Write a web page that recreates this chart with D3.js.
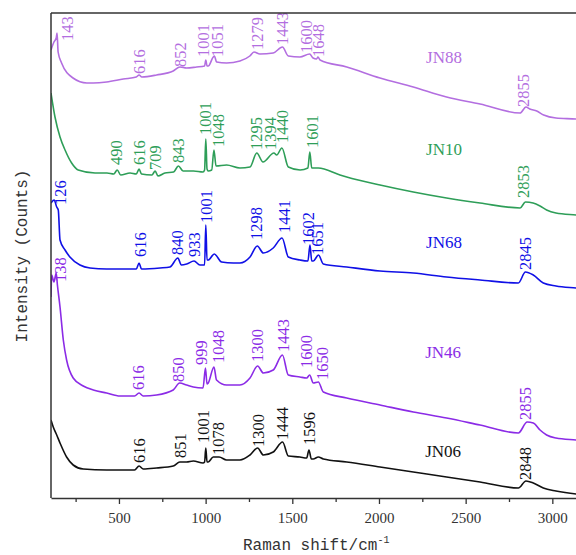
<!DOCTYPE html>
<html>
<head>
<meta charset="utf-8">
<script src="https://cdn.jsdelivr.net/npm/d3@7/dist/d3.min.js"></script>
<style>
  html, body { margin: 0; padding: 0; background: #fff; }
  svg { display: block; }
</style>
</head>
<body>
<svg id="chart" width="576" height="555"></svg>
<script>
// ---------------- DATA (Raman shift in cm^-1, intensity in arbitrary units) ----------------
const sampleNames = ["JN88", "JN10", "JN68", "JN46", "JN06"];

const JN88 = [[108,448],[125,456],[138,460],[143,465],[149,446],[169,435],[235,420],[315,415],[352,415],[429,416],[525,419],
  [600,421],[616,423],[632,421],[717,423],[813,427],[852,431],[890,430],[948,431],[994,432],[1001,438],[1008,432],[1015,432],
  [1044,441],[1051,442],[1063,436],[1121,435],[1198,437],[1255,442],[1279,446],[1313,444],[1390,445],[1443,451],[1477,442],
  [1544,441],[1600,444],[1620,440],[1640,439],[1648,441],[1660,438],[1814,431],[2006,420],[2198,411],[2390,401],[2583,394],
  [2814,385],[2848,391],[2870,389],[2910,387],[2950,383],[3021,380],[3137,379],[3200,378]];

const JN10 = [[108,405],[131,381],[160,361],[189,348],[227,335],[265,328],[362,325],[431,325],[470,324],[490,328],[510,323],
  [564,325],[600,324],[616,329],[630,324],[690,323],[709,327],[725,322],[765,325],[815,326],[843,332],[870,327],[930,327],
  [985,326],[994,328],[1001,359],[1008,329],[1015,327],[1035,328],[1048,348],[1060,332],[1121,333],[1198,330],[1256,331],
  [1295,345],[1331,336],[1394,345],[1410,343],[1440,350],[1477,331],[1545,328],[1590,330],[1601,346],[1612,330],[1650,330],
  [1775,323],[1814,321],[2006,313],[2198,306],[2390,300],[2583,295],[2814,290],[2845,296],[2889,295],[2929,292],[2967,288],
  [3021,285],[3137,283],[3200,282]];

const JN68 = [[108,295],[126,298],[141,291],[150,288],[160,258],[189,248],[217,241],[275,233],[333,230],[429,229],[535,229],
  [600,229],[616,235],[630,229],[737,230],[794,231],[840,240],[860,233],[891,234],[933,237],[967,233],[994,233],[1001,273],
  [1008,238],[1015,238],[1050,244],[1092,236],[1160,235],[1198,235],[1256,241],[1298,252],[1333,245],[1390,250],[1441,260],
  [1477,241],[1544,238],[1590,237],[1602,253],[1612,237],[1621,237],[1651,243],[1679,234],[1814,231],[2006,227],[2198,225],
  [2390,221],[2583,218],[2804,215],[2845,226],[2890,223],[2948,215],[3021,212],[3137,210],[3200,209]];

const JN46 = [[108,201],[112,223],[125,216],[138,225],[145,213],[160,191],[179,158],[198,138],[236,120],[294,112],[352,108],
  [429,105],[506,102],[590,102],[616,105],[640,102],[717,103],[813,108],[850,115],[890,113],[929,111],[985,110],[999,130],
  [1008,114],[1015,115],[1048,131],[1063,118],[1121,113],[1198,113],[1256,120],[1300,132],[1333,125],[1390,128],[1443,143],
  [1477,123],[1544,121],[1583,120],[1600,123],[1621,115],[1650,116],[1679,106],[1814,100],[2006,93],[2198,86],[2390,80],
  [2583,73],[2804,65],[2855,76],[2890,75],[2929,68],[2967,63],[3021,60],[3137,58],[3200,57]];

const JN06 = [[108,78],[121,71],[141,63],[160,55],[198,41],[236,33],[294,29],[429,28],[590,28],[616,32],[640,29],[717,30],
  [813,32],[851,36],[890,36],[929,37],[985,35],[994,36],[1001,50],[1008,36],[1015,36],[1044,41],[1078,41],[1121,38],
  [1198,38],[1256,43],[1300,50],[1333,43],[1390,46],[1444,56],[1477,42],[1544,41],[1583,40],[1596,48],[1610,39],[1621,39],
  [1650,41],[1679,39],[1814,36],[2006,31],[2198,26],[2390,21],[2583,16],[2804,10],[2848,17],[2890,15],[2948,10],[3021,7],
  [3137,4],[3200,3]];

// peak labels: text, and [raman shift, intensity] anchor of the label's lower end
const peaksJN88 = ["143","616","852","1001","1051","1279","1443","1600","1648","2855"];
const peakAtJN88 = [[204,457],[615,424],[852,431],[986,441],[1064,441],[1298,448],[1439,453],[1583,445],[1650,441],[2833,391]];
const peaksJN10 = ["490","616","709","843","1001","1048","1295","1394","1440","1601","2853"];
const peakAtJN10 = [[487,333],[617,333],[708,328],[842,335],[996,363],[1073,351],[1294,348],[1371,348],[1444,355],[1612,350],[2833,300]];
const peaksJN68 = ["126","616","840","933","1001","1298","1441","1602","1651","2845"];
const peakAtJN68 = [[164,293],[621,241],[836,243],[933,241],[1006,275],[1294,258],[1452,265],[1592,253],[1644,243],[2843,228]];
const peaksJN46 = ["138","616","850","999","1048","1300","1443","1600","1650","2855"];
const peakAtJN46 = [[164,216],[611,108],[842,116],[977,133],[1073,135],[1298,136],[1448,146],[1583,130],[1670,118],[2843,78]];
const peaksJN06 = ["616","851","1001","1078","1300","1444","1596","2848"];
const peakAtJN06 = [[615,35],[852,40],[986,55],[1073,43],[1304,51],[1439,58],[1598,53],[2843,18]];

// sample name anchors [raman shift, intensity]
const nameAt = [[2375,435],[2375,343],[2375,250],[2370,140],[2370,41]];

const majorTicks = [500, 1000, 1500, 2000, 2500, 3000];
const minorTicks = [250, 750, 1250, 1750, 2250, 2750, 3250];

const colors = ["#b36ee0", "#2e9e58", "#1010e6", "#8b2be6", "#111111"];

// ---------------- CHART ----------------
const svg = d3.select("#chart");
const L = 51, T = 13, B = 498, R = 587;

const x = d3.scaleLinear().domain([108, 3200]).range([L, R]);
const y = d3.scaleLinear().domain([0, 485]).range([B, T]);

svg.append("defs").append("clipPath").attr("id", "plotclip")
  .append("rect").attr("x", L).attr("y", T).attr("width", R - L).attr("height", B - T);

const plot = svg.append("g").attr("clip-path", "url(#plotclip)");

const series = [JN88, JN10, JN68, JN46, JN06];
const peakTexts = [peaksJN88, peaksJN10, peaksJN68, peaksJN46, peaksJN06];
const peakPos = [peakAtJN88, peakAtJN10, peakAtJN68, peakAtJN46, peakAtJN06];

const line = d3.line().x(d => x(d[0])).y(d => y(d[1])).curve(d3.curveMonotoneX);

series.forEach((s, i) => {
  plot.append("path").datum(s)
    .attr("d", line)
    .attr("fill", "none")
    .attr("stroke", colors[i])
    .attr("stroke-width", 1.6)
    .attr("stroke-linejoin", "round");

  plot.selectAll(null).data(peakTexts[i].map((t, k) => ({t, p: peakPos[i][k]})))
    .enter().append("text")
    .attr("transform", d => `translate(${x(d.p[0])},${y(d.p[1])}) rotate(-90)`)
    .attr("dy", "0.35em")
    .attr("text-anchor", "start")
    .attr("font-family", "'Liberation Serif', 'Times New Roman', serif")
    .attr("font-size", 16.5)
    .attr("fill", colors[i])
    .text(d => d.t);

  plot.append("text")
    .attr("x", x(nameAt[i][0]))
    .attr("y", y(nameAt[i][1]))
    .attr("text-anchor", "middle")
    .attr("font-family", "'Liberation Serif', 'Times New Roman', serif")
    .attr("font-size", 17)
    .attr("fill", colors[i])
    .text(sampleNames[i]);
});

// frame lines (top and left)
svg.append("line").attr("x1", L).attr("x2", R).attr("y1", T).attr("y2", T)
  .attr("stroke", "#333").attr("stroke-width", 1.5);
svg.append("line").attr("x1", L).attr("x2", L).attr("y1", T).attr("y2", B)
  .attr("stroke", "#333").attr("stroke-width", 1.5);

// bottom axis
const xAxis = svg.append("g").attr("transform", `translate(0,${B})`)
  .call(d3.axisBottom(x).tickValues(majorTicks).tickFormat(d3.format("d"))
    .tickSize(6).tickPadding(8).tickSizeOuter(0));
xAxis.select(".domain").attr("stroke", "#333").attr("stroke-width", 1.5);
xAxis.selectAll(".tick line").attr("stroke", "#333").attr("stroke-width", 1.3);
xAxis.selectAll(".tick text")
  .attr("font-family", "'Liberation Serif', 'Times New Roman', serif")
  .attr("font-size", 15).attr("fill", "#333");

const xMinor = svg.append("g").attr("transform", `translate(0,${B})`)
  .call(d3.axisBottom(x).tickValues(minorTicks.filter(v => v <= 3200)).tickSize(4).tickFormat(""));
xMinor.select(".domain").remove();
xMinor.selectAll(".tick line").attr("stroke", "#333").attr("stroke-width", 1.3);

// axis titles
const xt = svg.append("text")
  .attr("x", 243).attr("y", 550)
  .attr("font-family", "'Liberation Mono', 'DejaVu Sans Mono', monospace")
  .attr("font-size", 16).attr("fill", "#333");
xt.append("tspan").text("Raman shift/cm");
xt.append("tspan").attr("dy", -7).attr("font-size", 10).text("-1");

svg.append("text")
  .attr("transform", "translate(21,256) rotate(-90)")
  .attr("dy", "0.35em")
  .attr("text-anchor", "middle")
  .attr("font-family", "'Liberation Mono', 'DejaVu Sans Mono', monospace")
  .attr("font-size", 16).attr("fill", "#333")
  .text("Intensity (Counts)");
</script>
</body>
</html>
